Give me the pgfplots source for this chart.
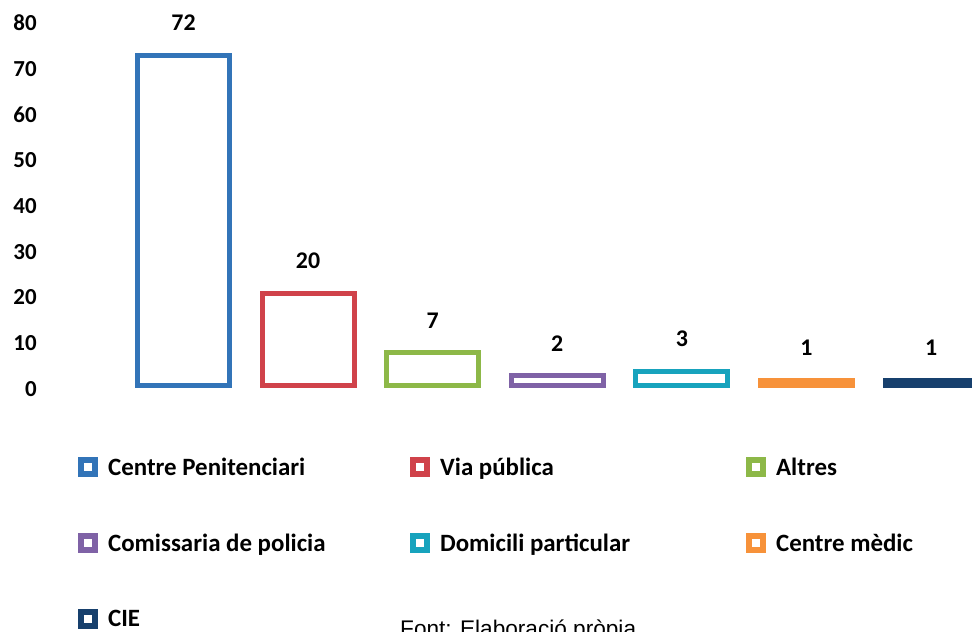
\documentclass[border=0pt]{standalone}
\usepackage{pgfplots}
\pgfplotsset{compat=1.18}
\usepackage{fontspec}
\setmainfont{Carlito}
\newfontfamily\arialfont{Liberation Sans}
\definecolor{cBlue}{HTML}{3274B8}
\definecolor{cRed}{HTML}{D0424A}
\definecolor{cGreen}{HTML}{8DB848}
\definecolor{cPurple}{HTML}{7F62A6}
\definecolor{cCyan}{HTML}{17A3BD}
\definecolor{cOrange}{HTML}{F7923A}
\definecolor{cNavy}{HTML}{17406D}
\begin{document}
\begin{tikzpicture}
\begin{axis}[
  at={(121.2bp,-385bp)}, anchor=south west,
  scale only axis,
  width=872.2bp, height=366bp,
  xmin=-0.5, xmax=6.5, ymin=0, ymax=80,
  ybar, bar width=92bp,
  axis line style={draw=none},
  major tick length=0pt,
  xtick=\empty,
  ytick={0,10,...,80},
  /pgf/number format/assume math mode=true,
  yticklabel style={font=\fontsize{23}{23}\selectfont\bfseries, anchor=east, xshift=-81bp, yshift=-4bp},
  nodes near coords,
  every node near coord/.append style={font=\fontsize{24}{24}\selectfont\bfseries, black, yshift=19bp},
  clip=false,
  legend columns=3,
  legend cell align=left,
  legend style={draw=none, fill=none, at={(axis description cs:-0.053,-0.193)}, anchor=north west,
    font=\fontsize{25}{25}\selectfont\bfseries, row sep=53bp, inner sep=0pt},
  legend image code/.code={\draw[#1, line width=6bp, fill=white] (3bp,-7bp) rectangle (17bp,7bp);
    \path (0bp,0bp) (26bp,0bp);},
]
\addplot[bar shift=0pt, draw=cBlue, fill=white, line width=5bp] coordinates {(0,72)};
\addlegendentry{\makebox[297bp][l]{Centre Penitenciari}}
\addplot[bar shift=0pt, draw=cRed, fill=white, line width=5bp] coordinates {(1,20)};
\addlegendentry{\makebox[301bp][l]{Via pública}}
\addplot[bar shift=0pt, draw=cGreen, fill=white, line width=5bp] coordinates {(2,7)};
\addlegendentry{\makebox[170bp][l]{Altres}}
\addplot[bar shift=0pt, draw=cPurple, fill=white, line width=5bp] coordinates {(3,2)};
\addlegendentry{\makebox[297bp][l]{Comissaria de policia}}
\addplot[bar shift=0pt, draw=cCyan, fill=white, line width=5bp] coordinates {(4,3)};
\addlegendentry{\makebox[301bp][l]{Domicili particular}}
\addplot[bar shift=0pt, draw=cOrange, fill=white, line width=5bp] coordinates {(5,1)};
\addlegendentry{\makebox[170bp][l]{Centre mèdic}}
\addplot[bar shift=0pt, draw=cNavy, fill=white, line width=5bp] coordinates {(6,1)};
\addlegendentry{\makebox[297bp][l]{CIE}}
\end{axis}
\node[anchor=base west, inner sep=0pt, font=\arialfont\fontsize{22.7}{22.7}\selectfont] at (400bp,-636bp) {Font: Elaboració pròpia};
\pgfresetboundingbox
\path (0,0) rectangle (972bp,-632bp);
\end{tikzpicture}
\end{document}
